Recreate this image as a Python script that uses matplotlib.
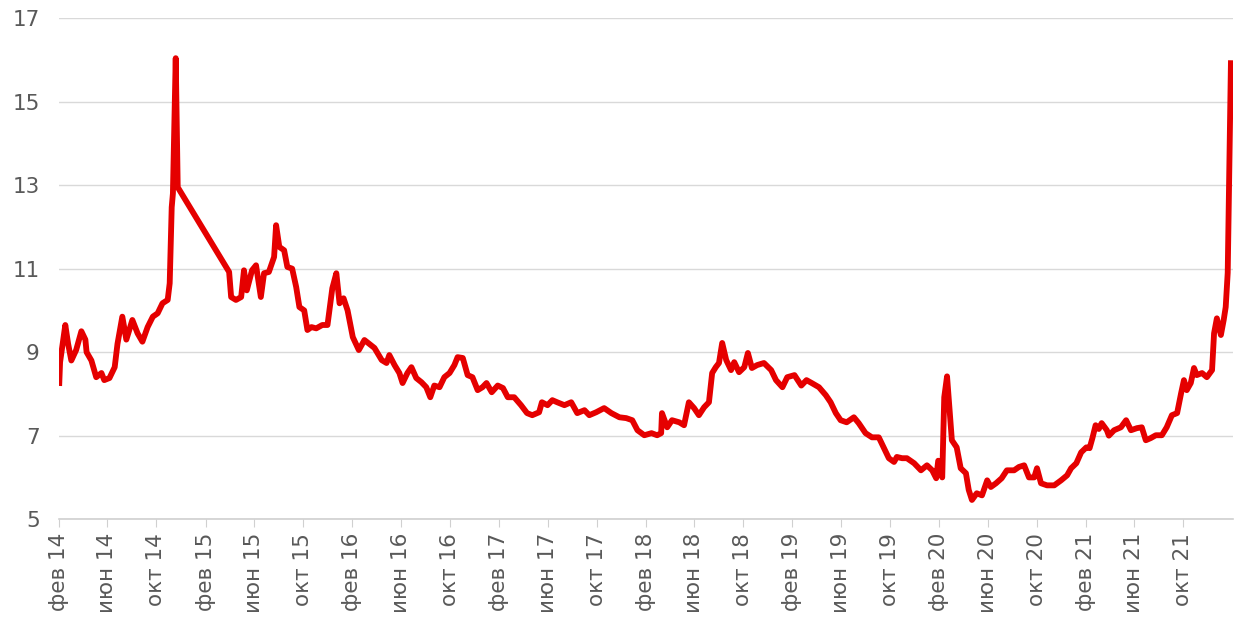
import matplotlib
matplotlib.use("Agg")
import matplotlib.pyplot as plt
import pandas as pd

# yield series (date, value)
dates = [
    "2014-02-01", "2014-02-03", "2014-02-16", "2014-02-23", "2014-03-03", "2014-03-15",
    "2014-03-28", "2014-04-07", "2014-04-10", "2014-04-22", "2014-05-04", "2014-05-17",
    "2014-05-24", "2014-06-06", "2014-06-19", "2014-06-26", "2014-07-08", "2014-07-18",
    "2014-08-02", "2014-08-15", "2014-08-27", "2014-09-09", "2014-09-22", "2014-10-04",
    "2014-10-16", "2014-10-29", "2014-11-03", "2014-11-08", "2014-11-11", "2014-11-18",
    "2014-11-23", "2015-03-31",
    "2015-04-05", "2015-04-17", "2015-04-30", "2015-05-07", "2015-05-14", "2015-05-27",
    "2015-06-06", "2015-06-18", "2015-06-26", "2015-07-08", "2015-07-21", "2015-07-26",
    "2015-08-03", "2015-08-15", "2015-08-23", "2015-09-04", "2015-09-14", "2015-09-22",
    "2015-10-04", "2015-10-12", "2015-10-22", "2015-11-03", "2015-11-18", "2015-12-01",
    "2015-12-13", "2015-12-23", "2015-12-31", "2016-01-10", "2016-01-20", "2016-02-02",
    "2016-02-17",
    "2016-03-02", "2016-03-14", "2016-03-27", "2016-04-14", "2016-04-26", "2016-05-03",
    "2016-05-16", "2016-05-28", "2016-06-05", "2016-06-17", "2016-06-27", "2016-07-09",
    "2016-07-22", "2016-08-03", "2016-08-13", "2016-08-23", "2016-09-05", "2016-09-17",
    "2016-09-30", "2016-10-12", "2016-10-20", "2016-11-02", "2016-11-14", "2016-11-26",
    "2016-12-09", "2016-12-21", "2016-12-31", "2017-01-13", "2017-01-28", "2017-02-10",
    "2017-02-22",
    "2017-03-10", "2017-03-27", "2017-04-11", "2017-04-24", "2017-05-11", "2017-05-18",
    "2017-06-01", "2017-06-13", "2017-06-25", "2017-07-13", "2017-07-30", "2017-08-14",
    "2017-09-01", "2017-09-13", "2017-09-30", "2017-10-20", "2017-11-07", "2017-11-27",
    "2017-12-14", "2017-12-29", "2018-01-11", "2018-01-28", "2018-02-15", "2018-03-01",
    "2018-03-11", "2018-03-13", "2018-03-26", "2018-04-07", "2018-04-25", "2018-05-07",
    "2018-05-19", "2018-06-01", "2018-06-13", "2018-06-26", "2018-07-08", "2018-07-16",
    "2018-07-25", "2018-08-02", "2018-08-10", "2018-08-20", "2018-09-01", "2018-09-09",
    "2018-09-21", "2018-10-04", "2018-10-13", "2018-10-23", "2018-11-05", "2018-11-22",
    "2018-12-10", "2018-12-22", "2019-01-07", "2019-01-19", "2019-02-06", "2019-02-23",
    "2019-03-08",
    "2019-03-21", "2019-04-08", "2019-04-25", "2019-05-07", "2019-05-20", "2019-06-01",
    "2019-06-16", "2019-07-04", "2019-07-16", "2019-08-02", "2019-08-18", "2019-09-04",
    "2019-09-17", "2019-09-29", "2019-10-12", "2019-10-19", "2019-11-01", "2019-11-13",
    "2019-12-01", "2019-12-18", "2020-01-02", "2020-01-15", "2020-01-25", "2020-01-30",
    "2020-02-09", "2020-02-14", "2020-02-21", "2020-02-28", "2020-03-04", "2020-03-16",
    "2020-03-26", "2020-04-08", "2020-04-15", "2020-04-23", "2020-05-05", "2020-05-18",
    "2020-05-31", "2020-06-09", "2020-06-22", "2020-07-06", "2020-07-19", "2020-08-06",
    "2020-08-18", "2020-08-31", "2020-09-12", "2020-09-25", "2020-10-02", "2020-10-12",
    "2020-10-27", "2020-11-14", "2020-12-01", "2020-12-16", "2020-12-26", "2021-01-08",
    "2021-01-20", "2021-02-02", "2021-02-10", "2021-02-17", "2021-02-25", "2021-03-05",
    "2021-03-12", "2021-03-25",
    "2021-03-30", "2021-04-12", "2021-04-29", "2021-05-12", "2021-05-24", "2021-06-08",
    "2021-06-20", "2021-06-30", "2021-07-12", "2021-07-25", "2021-08-09", "2021-08-21",
    "2021-09-03", "2021-09-16", "2021-09-26", "2021-10-03", "2021-10-10", "2021-10-20",
    "2021-10-28", "2021-11-04", "2021-11-17", "2021-11-29", "2021-12-12", "2021-12-17",
    "2021-12-24", "2022-01-03", "2022-01-10", "2022-01-15", "2022-01-20", "2022-01-28",
]
values = [
    8.26, 8.76, 9.65, 9.2, 8.8, 9.05,
    9.5, 9.3, 9.0, 8.8, 8.4, 8.5,
    8.33, 8.38, 8.64, 9.2, 9.85, 9.3,
    9.77, 9.45, 9.25, 9.6, 9.85, 9.93,
    10.17, 10.25, 10.65, 12.47, 12.8, 16.04,
    12.95, 10.92,
    10.32, 10.25, 10.32, 10.96, 10.48, 10.96,
    11.08, 10.32, 10.89, 10.92, 11.28, 12.04,
    11.52, 11.44, 11.04, 11.0, 10.56, 10.08,
    10.0, 9.53, 9.6, 9.57, 9.65, 9.65,
    10.53, 10.89, 10.17, 10.29, 10.0, 9.36,
    9.05,
    9.29, 9.2, 9.1, 8.81, 8.74, 8.93,
    8.69, 8.5, 8.26, 8.5, 8.64, 8.38,
    8.28, 8.16, 7.92, 8.2, 8.16, 8.4,
    8.5, 8.69, 8.88, 8.86, 8.45, 8.4,
    8.09, 8.16, 8.26, 8.04, 8.2, 8.14,
    7.92,
    7.92, 7.73, 7.54, 7.49, 7.56, 7.8,
    7.73, 7.85, 7.8, 7.73, 7.8, 7.54,
    7.61, 7.49, 7.56, 7.66, 7.54, 7.44,
    7.42, 7.37, 7.13, 7.01, 7.06, 7.01,
    7.06, 7.54, 7.2, 7.37, 7.32, 7.25,
    7.8, 7.66, 7.49, 7.68, 7.8, 8.5,
    8.64, 8.74, 9.22, 8.81, 8.57, 8.76,
    8.52, 8.64, 8.98, 8.62, 8.69, 8.74,
    8.57, 8.33, 8.16, 8.4, 8.45, 8.2,
    8.33,
    8.26, 8.16, 7.97, 7.8, 7.54, 7.37,
    7.32, 7.44, 7.3, 7.06, 6.96, 6.96,
    6.7, 6.46, 6.37, 6.49, 6.46, 6.46,
    6.34, 6.17, 6.29, 6.17, 5.98, 6.4,
    6.0, 7.92, 8.42, 7.54, 6.89, 6.72,
    6.22, 6.1, 5.7, 5.46, 5.62, 5.57,
    5.93, 5.77, 5.86, 5.98, 6.17, 6.17,
    6.25, 6.29, 6.0, 6.0, 6.22, 5.86,
    5.81, 5.81, 5.93, 6.05, 6.22, 6.34,
    6.6, 6.72, 6.7, 6.94, 7.25, 7.16,
    7.3, 7.13,
    7.0, 7.13, 7.2, 7.37, 7.13, 7.18,
    7.2, 6.89, 6.94, 7.01, 7.01, 7.2,
    7.49, 7.54, 8.02, 8.33, 8.09, 8.26,
    8.62, 8.45, 8.5, 8.4, 8.57, 9.45,
    9.81, 9.41, 9.77, 10.08, 10.9, 15.92,
]

month_names = ["янв", "фев", "мар", "апр", "май", "июн",
               "июл", "авг", "сен", "окт", "ноя", "дек"]
y_ticks = [5, 7, 9, 11, 13, 15, 17]

x = pd.to_datetime(dates)

fig = plt.figure(figsize=(12.35, 6.24), dpi=100)
ax = fig.add_axes([0.048, 0.168, 0.95, 0.803])

ax.plot(x, values, color="#e50000", linewidth=4.2, solid_joinstyle="round")

ax.set_ylim(5, 17)
ax.set_yticks(y_ticks)
ax.set_xlim(pd.Timestamp("2014-02-01"), pd.Timestamp("2022-02-01"))

tick_dates = pd.date_range("2014-02-01", "2021-10-01", freq="4MS")
ax.set_xticks(tick_dates)
ax.set_xticklabels([f"{month_names[d.month - 1]} {d.year % 100}" for d in tick_dates],
                   rotation=90, fontsize=15.5, color="#595959", family="DejaVu Sans")

for lab in ax.get_yticklabels():
    lab.set_fontsize(15.5)
    lab.set_color("#595959")

ax.grid(axis="y", color="#d9d9d9", linewidth=1)
ax.set_axisbelow(True)
for s in ["top", "right", "left"]:
    ax.spines[s].set_visible(False)
ax.spines["bottom"].set_color("#d0d0d0")
ax.spines["bottom"].set_linewidth(1.2)
ax.tick_params(axis="y", length=0, pad=14)
ax.tick_params(axis="x", length=6, color="#d0d0d0", pad=4)

fig.savefig("out.png", dpi=100)
